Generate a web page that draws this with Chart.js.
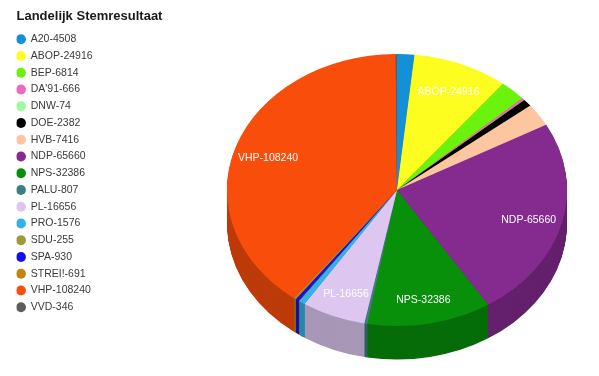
<!DOCTYPE html>
<html>
<head>
<meta charset="utf-8">
<script src="https://cdn.jsdelivr.net/npm/chart.js@4.4.0/dist/chart.umd.min.js"></script>
<style>
  html, body { margin: 0; padding: 0; background: #fff; }
  #wrap { width: 599px; height: 376px; }
</style>
</head>
<body>
<div id="wrap"><canvas id="myChart"></canvas></div>
<script>
var parties = ['A20', 'ABOP', 'BEP', "DA'91", 'DNW', 'DOE', 'HVB', 'NDP', 'NPS', 'PALU', 'PL', 'PRO', 'SDU', 'SPA', 'STREI!', 'VHP', 'VVD'];
var votes = [4508, 24916, 6814, 666, 74, 2382, 7416, 65660, 32386, 807, 16656, 1576, 255, 930, 691, 108240, 346];
var colors = ['#1490d8', '#fdfd1f', '#6cf30c', '#ef67c1', '#9ff99f', '#000000', '#fcc6a0', '#852a8f', '#08900a', '#3f7e80', '#ddc7f1', '#33b1e9', '#9c9a3b', '#1410ef', '#c4820f', '#f94e0b', '#5e5e5e'];

var font = "'Liberation Sans', Arial, sans-serif";
var tilt = 0.8, depth = 42, pieX = 397, pieY = 190;
var total = votes.reduce(function (s, v) { return s + v; }, 0);

function shade(hex, f) {
  var n = parseInt(hex.slice(1), 16);
  return 'rgb(' + Math.round((n >> 16 & 255) * f) + ',' + Math.round((n >> 8 & 255) * f) + ',' + Math.round((n & 255) * f) + ')';
}

// squash the pie into an ellipse and give it a darker side
var pie3d = {
  id: 'pie3d',
  beforeDatasetsDraw: function (chart) {
    var ctx = chart.ctx;
    var arcs = chart.getDatasetMeta(0).data;
    ctx.save();
    ctx.translate(pieX, pieY);
    ctx.scale(1, tilt);
    ctx.translate(-arcs[0].x, -arcs[0].y);
    for (var d = depth; d > 0; d--) {
      arcs.forEach(function (a, i) {
        ctx.fillStyle = shade(colors[i], 0.76);
        ctx.beginPath();
        ctx.moveTo(a.x, a.y + d);
        ctx.arc(a.x, a.y + d, a.outerRadius, a.startAngle, a.endAngle);
        ctx.closePath();
        ctx.fill();
      });
    }
  },
  afterDatasetsDraw: function (chart) {
    var ctx = chart.ctx;
    ctx.restore();
    var arcs = chart.getDatasetMeta(0).data;
    ctx.save();
    ctx.fillStyle = '#fff';
    ctx.font = '10.5px ' + font;
    ctx.textAlign = 'center';
    ctx.textBaseline = 'middle';
    arcs.forEach(function (a, i) {
      if (votes[i] / total < 0.05) return;
      var mid = (a.startAngle + a.endAngle) / 2;
      var r = a.outerRadius * 0.8;
      ctx.fillText(parties[i] + '-' + votes[i], pieX + Math.cos(mid) * r, pieY + Math.sin(mid) * r * tilt + 3);
    });
    ctx.restore();
  }
};

new Chart('myChart', {
  type: 'pie',
  data: {
    labels: parties.map(function (p, i) { return [p + '-' + votes[i]]; }),
    datasets: [{
      data: votes,
      backgroundColor: colors,
      borderWidth: 0,
      radius: 170
    }]
  },
  options: {
    responsive: true,
    maintainAspectRatio: false,
    animation: false,
    layout: { padding: { left: 16.5 } },
    plugins: {
      title: {
        display: true,
        text: 'Landelijk Stemresultaat',
        align: 'start',
        color: '#1a1a1a',
        font: { family: font, size: 13, weight: 'bold' },
        padding: { top: 8.7, bottom: 9.7 }
      },
      legend: {
        position: 'left',
        align: 'start',
        fullSize: false,
        labels: {
          usePointStyle: true,
          pointStyle: 'circle',
          boxWidth: 9,
          boxHeight: 7,
          padding: 0,
          color: '#3a3a3a',
          font: { family: font, size: 10.5, lineHeight: '16.75px' }
        }
      },
      tooltip: { enabled: false }
    }
  },
  plugins: [pie3d]
});
</script>
</body>
</html>
